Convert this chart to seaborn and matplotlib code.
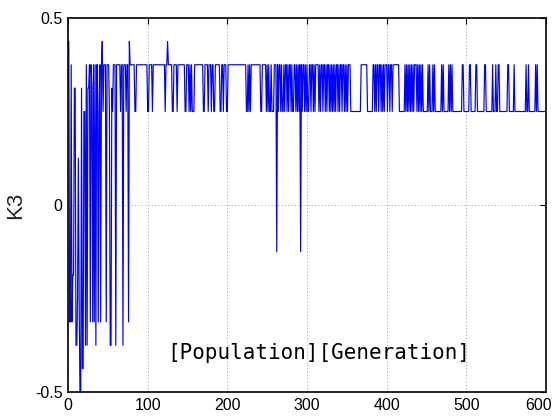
import numpy as np
import pandas as pd
import matplotlib
matplotlib.use("Agg")
import matplotlib.pyplot as plt
import matplotlib.transforms as mtransforms
import seaborn as sns

# Best K3 gain per generation, stored as runs: each level holds from its start generation
seg_start = [
    0, 2, 4, 5, 6, 8, 10, 12, 13, 14, 15, 17, 18, 20, 22, 23, 24, 25, 27, 28,
    29, 30, 31, 32, 33, 34, 35, 36, 38, 39, 40, 41, 42, 43, 44, 45, 48, 49, 52, 53,
    55, 56, 57, 60, 61, 66, 67, 69, 70, 73, 74, 76, 77, 78,
    84, 86, 100, 102, 106, 107, 122, 123, 125, 126, 131, 133, 137, 138, 147, 149,
    152, 153, 154, 155, 156, 159, 170, 172, 176, 177, 180, 181, 183, 185, 191, 193,
    195, 196, 199, 201, 224, 226, 227, 228, 229, 230, 242, 244, 249, 250, 251, 252,
    253, 255, 256, 259, 262, 263, 264, 265, 267, 268, 269, 271, 272, 273, 275, 276,
    277, 278, 280, 281, 282, 284, 286, 287, 288, 289, 290, 291, 292, 293, 294, 295,
    297, 298, 299, 300, 301, 303, 305, 306, 308, 309, 310, 311, 315, 316, 317, 318,
    320, 321, 323, 324, 325, 326, 328, 329, 330, 331, 332, 333, 334, 335, 336, 337,
    339, 340, 341, 342, 344, 345, 347, 348, 349, 350, 351, 352, 355, 368, 376, 383,
    385, 386, 387, 388, 390, 391, 393, 394, 395, 396, 397, 398, 401, 402, 404, 405,
    407, 408, 416,
    423, 424, 425, 426, 427, 428, 429, 430, 431, 432, 433, 434, 435, 438, 439, 440,
    441, 442, 443, 444, 445, 446, 452, 453, 454, 455, 458, 459, 460, 461,
    469, 470, 471, 472, 478, 479, 480, 481, 482, 483, 495, 497, 504, 506, 512, 514,
    523, 525, 533, 534, 537, 538, 540, 542, 552, 554, 560, 561, 575, 576, 578, 579,
    587, 588, 589, 590,
]
seg_level = [
    0.4375, -0.3125, 0.375, -0.3125, -0.1875, 0.3125, -0.375, -0.25, 0.125, -0.25,
    -0.5, 0.3125, -0.4375, 0.25, -0.375, 0.375, -0.375, 0.3125, 0.375, -0.3125,
    0.375, 0.3125, -0.3125, 0.375, -0.3125, 0.375, -0.375, 0.375, -0.3125, 0.25,
    0.375, -0.3125, 0.375, 0.4375, 0.25, 0.375, -0.3125, 0.375, 0.25, -0.375,
    0.3125, 0.25, 0.375, -0.375, 0.375, 0.25, 0.375, -0.375, 0.375, 0.25, 0.375,
    -0.3125, 0.4375, 0.375,
    0.25, 0.375, 0.25, 0.375, 0.25, 0.375, 0.25, 0.375, 0.4375, 0.375, 0.25, 0.375,
    0.25, 0.375, 0.25, 0.375,
    0.25, 0.375, 0.25, 0.375, 0.25, 0.375, 0.25, 0.375, 0.25, 0.375, 0.25, 0.375,
    0.25, 0.375, 0.25, 0.375,
    0.25, 0.375, 0.25, 0.375, 0.25, 0.375, 0.25, 0.375, 0.25, 0.375, 0.25, 0.375,
    0.25, 0.375, 0.25, 0.375,
    0.25, 0.375, 0.25, 0.375, -0.125, 0.375, 0.25, 0.375, 0.25, 0.375, 0.25, 0.375,
    0.25, 0.375, 0.25, 0.375,
    0.25, 0.375, 0.25, 0.375, 0.25, 0.375, 0.25, 0.375, 0.25, 0.375, 0.25, 0.375,
    -0.125, 0.375, 0.25, 0.375,
    0.25, 0.375, 0.25, 0.375, 0.25, 0.375, 0.25, 0.375, 0.25, 0.375, 0.25, 0.375,
    0.25, 0.375, 0.25, 0.375,
    0.25, 0.375, 0.25, 0.375, 0.25, 0.375, 0.25, 0.375, 0.25, 0.375, 0.25, 0.375,
    0.25, 0.375, 0.25, 0.375,
    0.25, 0.375, 0.25, 0.375, 0.25, 0.375, 0.25, 0.375, 0.25, 0.375, 0.25, 0.375,
    0.25, 0.375, 0.25, 0.375,
    0.25, 0.375, 0.25, 0.375, 0.25, 0.375, 0.25, 0.375, 0.25, 0.375, 0.25, 0.375,
    0.25, 0.375, 0.25, 0.375,
    0.25, 0.375, 0.25,
    0.375, 0.25, 0.375, 0.25, 0.375, 0.25, 0.375, 0.25, 0.375, 0.25, 0.375, 0.25,
    0.375, 0.25, 0.375, 0.25,
    0.375, 0.25, 0.375, 0.25, 0.375, 0.25, 0.375, 0.25, 0.375, 0.25, 0.375, 0.25,
    0.375, 0.25,
    0.375, 0.25, 0.375, 0.25, 0.375, 0.25, 0.375, 0.25, 0.375, 0.25, 0.375, 0.25,
    0.375, 0.25, 0.375, 0.25,
    0.375, 0.25, 0.375, 0.25, 0.375, 0.25, 0.375, 0.25, 0.375, 0.25, 0.375, 0.25,
    0.375, 0.25, 0.375, 0.25,
    0.375, 0.25, 0.375, 0.25,
]
last_generation = 600

x_ticks = [0, 100, 200, 300, 400, 500, 600]
y_ticks = [-0.5, 0, 0.5]
y_tick_labels = ["-0.5", "0", "0.5"]
y_label = "K3"
note_text = "[Population][Generation]"

# expand the runs into one value per generation
run_len = np.diff(seg_start + [last_generation + 1])
k3 = np.repeat(seg_level, run_len)
df = pd.DataFrame({"generation": np.arange(last_generation + 1), "K3": k3})

sns.set_style("white")
plt.rcParams["font.family"] = ["Liberation Sans", "DejaVu Sans"]

fig = plt.figure(figsize=(5.54, 4.18), dpi=100)
ax = fig.add_axes([68 / 554, 26 / 418, 478 / 554, 374 / 418])

sns.lineplot(data=df, x="generation", y="K3", ax=ax, color="#0000ff",
             linewidth=0.85, estimator=None, sort=False, legend=False)

ax.set_xlim(0, 600)
ax.set_ylim(-0.5, 0.5)
ax.set_xticks(x_ticks)
ax.set_xticklabels([str(t) for t in x_ticks])
ax.set_yticks(y_ticks)
ax.set_yticklabels(y_tick_labels)

ax.grid(True, linestyle=(0, (1, 3)), color="#808080", linewidth=0.6)
ax.tick_params(direction="in", length=4, width=0.8, top=True, right=True,
               labelsize=11.5, pad=4, colors="black")
for sp in ax.spines.values():
    sp.set_visible(True)
    sp.set_color("black")
    sp.set_linewidth(1.2)

# nudge the last x label so it stays inside the figure edge
last_lbl = ax.get_xticklabels()[-1]
last_lbl.set_transform(last_lbl.get_transform() +
                       mtransforms.ScaledTranslation(-7 / 100, 0, fig.dpi_scale_trans))

ax.set_xlabel("")
ax.set_ylabel(y_label, fontsize=16, labelpad=6)

ax.text(124, -0.395, note_text, fontsize=15, family=["DejaVu Sans Mono"],
        ha="left", va="center", color="black")

fig.savefig("out.png", dpi=100)
